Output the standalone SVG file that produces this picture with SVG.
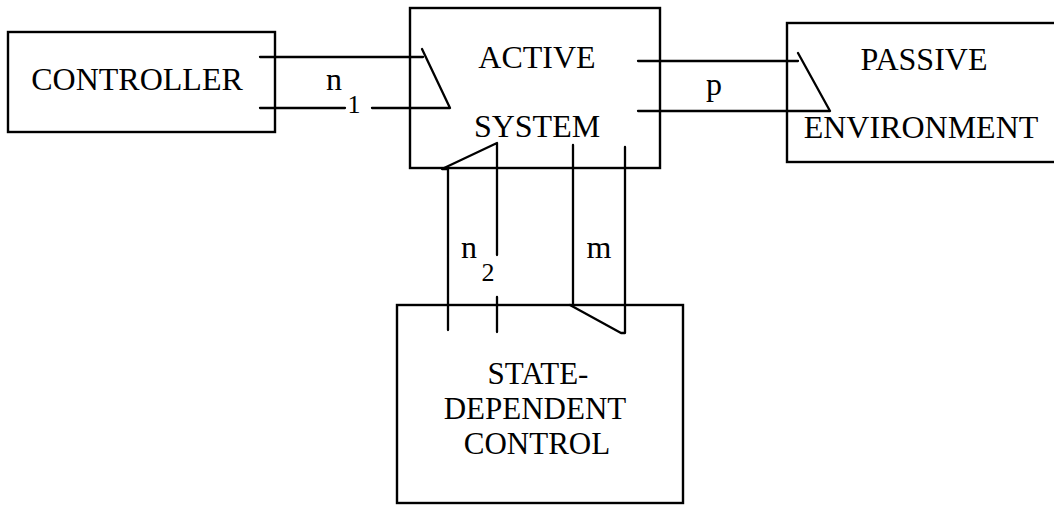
<svg xmlns="http://www.w3.org/2000/svg" width="1054" height="507" viewBox="0 0 1054 507">
<style>
.box{fill:none;stroke:#000;stroke-width:2.4}
.ln{fill:none;stroke:#000;stroke-width:2.3;stroke-linecap:round;stroke-linejoin:round}
.t{font-family:"Liberation Serif","Times New Roman",serif;font-size:32px;fill:#000;text-anchor:middle}
.c{font-family:"Liberation Serif","Times New Roman",serif;font-size:31px;fill:#000;text-anchor:middle}
.s{font-family:"Liberation Serif","Times New Roman",serif;font-size:26px;fill:#000;text-anchor:middle}
</style>
<rect width="1054" height="507" fill="#fff"/>
<g id="controller">
<rect class="box" x="8" y="32" width="267" height="100"/>
<text class="t" x="137" y="90">CONTROLLER</text>
</g>
<g id="active-system">
<rect class="box" x="410" y="8" width="250" height="160"/>
<text class="t" x="537" y="68">ACTIVE</text>
<text class="t" x="537" y="137">SYSTEM</text>
</g>
<g id="passive-environment">
<rect class="box" x="787" y="23" width="290" height="139"/>
<text class="t" x="924" y="70">PASSIVE</text>
<text class="t" x="921" y="138">ENVIRONMENT</text>
</g>
<g id="state-dependent-control">
<rect class="box" x="397" y="305" width="286" height="198"/>
<text class="c" x="538" y="384">STATE-</text>
<text class="c" x="535" y="419">DEPENDENT</text>
<text class="c" x="537" y="454">CONTROL</text>
</g>
<g id="connectors">
<path class="ln" d="M260 57H423M422 49L450 108H372M345 108H260"/>
<path class="ln" d="M638 61H798M798 53L830 111H638"/>
<path class="ln" d="M448 330V169L442 169L497 143V255M497 297V332"/>
<path class="ln" d="M573 145V305M570 305L621 333H625V147"/>
</g>
<g id="labels">
<text class="t" x="334" y="90">n</text>
<text class="s" x="354" y="113">1</text>
<text class="t" x="714" y="95">p</text>
<text class="t" x="469" y="258">n</text>
<text class="s" x="488" y="281">2</text>
<text class="t" x="599" y="258">m</text>
</g>
</svg>
